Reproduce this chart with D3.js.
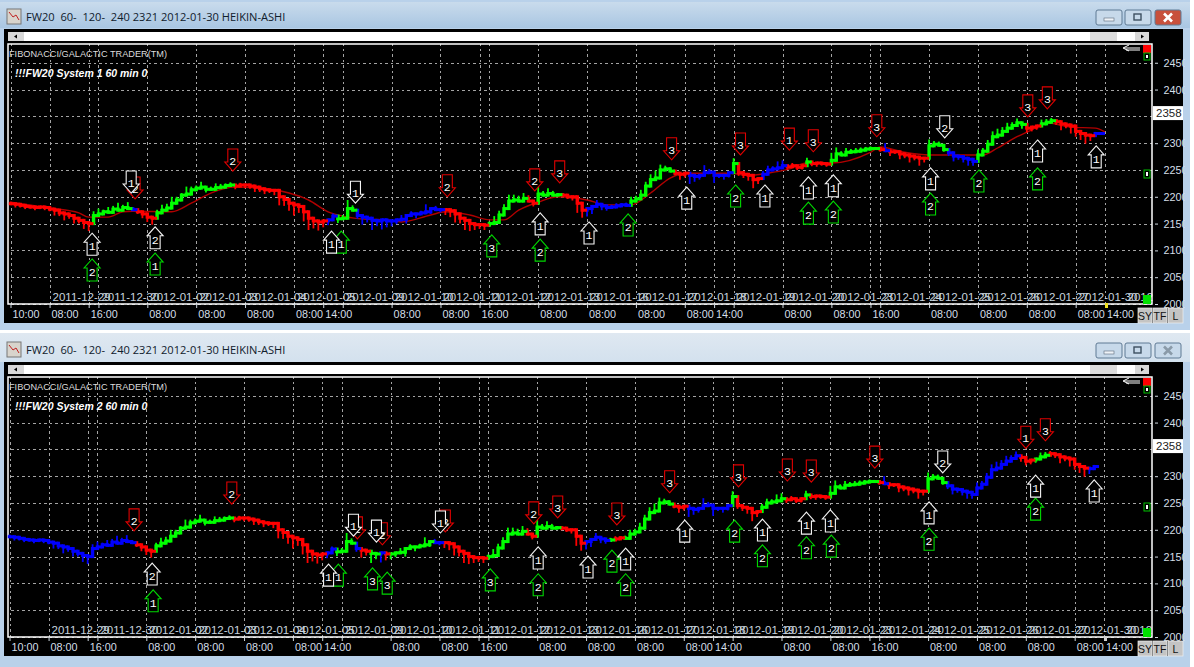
<!DOCTYPE html>
<html>
<head>
<meta charset="utf-8">
<title>FW20 System</title>
<script src="https://cdnjs.cloudflare.com/ajax/libs/d3/7.8.5/d3.min.js"></script>
<style>
  html, body { margin: 0; padding: 0; background: #fff; }
  svg { display: block; }
  text { white-space: pre; }
</style>
</head>
<body>
<div id="chart"></div>
<script>
// Hourly closes, one per bar
var closes = [
  2187,2186,2184,2182,2181,2180,2181,2180,
  2177,2175,2170,2168,2165,2160,2156,2152,2150,2165,
  2168,2172,2171,2177,2175,2180,2178,2176,2172,2168,
  2162,2160,2170,2175,2179,2188,2194,2203,2205,2213,
  2216,2218,2214,2214,2217,2218,2221,2222,2220,2222,
  2222,2220,2218,2215,2213,2212,2212,2200,2195,2188,
  2185,2182,2172,2160,2155,2153,2155,2157,2164,2159,
  2160,2178,2175,2165,2162,2160,2156,2155,2157,2155,
  2155,2157,2158,2165,2168,2168,2170,2172,2178,2176,
  2176,2176,2174,2168,2160,2156,2150,2148,2148,2147,
  2150,2152,2166,2178,2192,2194,2192,2197,2192,2188,
  2205,2203,2206,2203,2204,2203,2200,2200,2188,2175,
  2178,2182,2186,2183,2180,2181,2183,2185,2184,2192,
  2196,2203,2220,2232,2235,2250,2252,2248,2244,2242,
  2244,2240,2238,2240,2245,2246,2240,2240,2240,2245,
  2262,2245,2242,2240,2232,2234,2242,2250,2252,2254,
  2258,2256,2258,2255,2258,2265,2262,2263,2262,2261,
  2268,2280,2278,2283,2284,2285,2287,2289,2290,2290,
  2288,2286,2284,2284,2280,2278,2276,2274,2272,2272,
  2295,2298,2296,2288,2282,2276,2275,2272,2270,2266,
  2278,2285,2298,2312,2315,2322,2328,2333,2338,2335,
  2328,2330,2332,2336,2339,2342,2340,2336,2334,2332,
  2322,2318,2315,2314,2318,2318
];

// Wick length per bar in points: positive above the body, negative below
var wicks = [
  4,-6,-4,-5,-3,-5,-3,-5,
  -4,-10,-6,-12,-6,-10,-6,-12,-14,8,
  10,4,9,6,12,5,10,3,-4,-8,
  -9,-12,6,10,8,12,6,4,14,6,
  5,10,-6,5,8,6,4,5,-6,4,
  -6,-5,-9,-6,-8,-5,-9,-16,-12,-14,
  -20,-12,-18,-22,-14,-16,-10,-8,5,-8,
  6,16,6,-6,-14,-8,-18,-10,-16,-12,
  -10,-6,8,-8,5,-8,4,14,-4,5,
  -5,-10,-12,-16,-10,-18,-14,-10,-8,-9,
  4,12,8,8,12,10,8,10,6,-6,
  14,6,10,5,3,-4,-4,-7,-18,-14,
  -12,-10,8,-8,-6,4,5,3,4,8,
  6,10,8,10,14,10,6,3,-4,-10,
  -6,-16,-10,-6,14,6,-14,-5,-8,-4,
  10,-6,-7,-10,-16,-8,6,8,5,12,
  10,-6,5,-5,-4,8,-5,-6,-4,-5,
  14,12,5,8,5,6,5,4,4,3,
  -4,12,-8,-4,-10,-6,-12,-6,-14,-8,
  12,6,5,-4,-6,-10,-6,-8,-12,-8,
  10,6,8,10,12,8,10,6,8,-8,
  -8,-6,-5,8,6,5,-6,-12,-6,-14,
  -10,-12,-16,-10,3,2
];

// Colour runs along the bars: [colour, number of bars]
var runs1 = [
  ["red",17],["green",8],["blue",1],["red",4],["green",16],["red",19],["blue",2],
  ["green",4],["blue",18],["red",9],["green",8],["red",2],["green",5],["red",5],
  ["blue",9],["green",9],["red",3],["blue",9],["green",1],["red",5],["blue",5],
  ["red",4],["green",1],["red",4],["green",10],["red",1],["blue",1],["red",8],
  ["green",4],["blue",6],["green",10],["red",3],["green",3],["red",8],["blue",2]
];
var runs2 = [
  ["blue",26],["red",4],["green",16],["red",19],["blue",2],["green",4],["blue",1],
  ["red",2],["green",2],["blue",1],["red",1],["green",9],["blue",2],["red",9],
  ["green",8],["red",2],["green",5],["red",5],["blue",5],["green",1],["red",2],
  ["green",10],["red",3],["blue",9],["green",1],["red",5],["green",5],["red",4],
  ["green",1],["red",4],["green",10],["red",1],["blue",1],["red",8],["green",4],
  ["blue",15],["red",3],["green",3],["red",8],["blue",2]
];

// Moving average of the first window
var avgBars = [0,8,14,16,20,23,25,33,37,41,46,53,57,61,65,68,73,77,80,86,89,94,98,101,104,108,112,118,122,127,131,135,138,147,151,155,159,163,168,176,178,183,188,194,199,202,206,209,212,217,222,224];
var avgValues = [2190,2179,2170,2162,2162,2172,2173,2172,2188,2207,2218,2214,2207,2194,2172,2164,2158,2157,2153,2166,2172,2166,2157,2157,2175,2190,2200,2194,2185,2185,2207,2235,2244,2244,2240,2244,2251,2263,2263,2283,2293,2283,2278,2278,2278,2291,2312,2325,2338,2330,2328,2321];

// Signal arrows: [bar, price at the tip, label]
var whiteUp1 = [[16.7,2132,"1"],[29.6,2144,"2"],[65.7,2136,"1"],[108.4,2170,"1"],[118.4,2153,"1"],[138.4,2218,"1"],[154.4,2222,"1"],[163.3,2237,"1"],[168.4,2241,"1"],[188.3,2254,"1"],[210.2,2306,"1"],[222.2,2295,"1"]];
var greenUp1 = [[16.7,2084,"2"],[29.6,2095,"1"],[67.7,2136,"1"],[98.5,2129,"3"],[108.4,2121,"2"],[126.4,2168,"2"],[148.4,2222,"2"],[163.3,2190,"2"],[168.4,2192,"2"],[188.3,2207,"2"],[198.2,2250,"2"],[210.2,2254,"2"]];
var whiteDown1 = [[24.7,2207,"1"],[70.6,2188,"1"],[191.2,2310,"2"]];
var redDown1 = [[25.5,2196,"2"],[45.5,2248,"2"],[89.4,2200,"2"],[107.3,2211,"2"],[112.4,2226,"3"],[135.3,2269,"3"],[149.4,2278,"3"],[159.4,2287,"1"],[164.3,2284,"3"],[177.3,2312,"3"],[208.2,2349,"3"],[212.2,2364,"3"]];

var whiteUp2 = [[29.2,2138,"2"],[65.3,2136,"1"],[108.2,2168,"1"],[118.4,2151,"1"],[126.1,2166,"1"],[138.2,2218,"1"],[154.1,2220,"1"],[163.1,2233,"1"],[168,2237,"1"],[188.2,2252,"1"],[210,2302,"1"],[222,2293,"1"]];
var greenUp2 = [[29.4,2088,"1"],[67.3,2136,"1"],[74.3,2129,"3"],[77.3,2121,"3"],[98.4,2127,"3"],[108.2,2118,"2"],[123.3,2162,"2"],[126.1,2118,"2"],[148.4,2218,"2"],[154.1,2172,"2"],[163.1,2187,"2"],[168.2,2190,"2"],[188.2,2203,"2"],[210,2259,"2"]];
var whiteDown2 = [[70.4,2188,"1"],[75.1,2177,"1"],[88.2,2194,"1"],[191,2306,"2"]];
var redDown2 = [[25.5,2198,"2"],[45.5,2248,"2"],[71.2,2183,"2"],[76.3,2172,"2"],[89.2,2196,"2"],[107.3,2211,"2"],[112.2,2222,"3"],[124.3,2209,"3"],[135.1,2269,"3"],[149.2,2280,"3"],[159.2,2291,"3"],[164.1,2289,"3"],[177.1,2315,"3"],[208,2352,"1"],[212,2366,"3"]];

// Axis labels
var priceTicks = [2000,2050,2100,2150,2200,2250,2300,2350,2400,2450];
var priceLabels = [2000,2050,2100,2150,2200,2250,2300,null,2400,2450];
var timeBars = [0,8,16,18,28,38,48,58,64,68,78,88,96,98,108,118,128,138,144,148,158,168,176,178,188,198,208,218,224];
var timeLabels = ["10:00","08:00","16:00","","08:00","08:00","08:00","08:00","14:00","","08:00","08:00","16:00","","08:00","08:00","08:00","08:00","14:00","","08:00","08:00","16:00","","08:00","08:00","08:00","08:00","14:00"];
var dayBars = [8,18,28,38,48,58,68,78,88,98,108,118,128,138,148,158,168,178,188,198,208,218,228];
var dayLabels = ["2011-12-29","2011-12-30","2012-01-02","2012-01-03","2012-01-04","2012-01-05","2012-01-09","2012-01-10","2012-01-11","2012-01-12","2012-01-13","2012-01-16","2012-01-17","2012-01-18","2012-01-19","2012-01-20","2012-01-23","2012-01-24","2012-01-25","2012-01-26","2012-01-27","2012-01-30","2012"];
var lastPrice = 2358;
var windowTitle = "FW20  60-  120-  240 2321 2012-01-30 HEIKIN-ASHI";

// Size of the page
var svgWidth = 1194;
var svgHeight = 667;

// Plot area inside a window, window local coordinates
var plot = { left: 8, right: 1152, top: 44, bottom: 304 };

var barColors = { red: "#ff0000", green: "#00ff00", blue: "#0000ff" };

var svg = d3.select("#chart")
  .append("svg")
  .attr("width", svgWidth)
  .attr("height", svgHeight);

var defs = svg.append("defs");
var activeBar = defs.append("linearGradient").attr("id", "activeBar").attr("x2", 0).attr("y2", 1);
activeBar.append("stop").attr("offset", 0).attr("stop-color", "#c9dbec");
activeBar.append("stop").attr("offset", 1).attr("stop-color", "#a9c6e2");
var idleBar = defs.append("linearGradient").attr("id", "idleBar").attr("x2", 0).attr("y2", 1);
idleBar.append("stop").attr("offset", 0).attr("stop-color", "#dfe8f1");
idleBar.append("stop").attr("offset", 1).attr("stop-color", "#d3e1ee");

// Pair up the [colour, count] runs into one colour per bar
function expandRuns(runs) {
  var out = [];
  runs.forEach(function (r) {
    d3.range(r[1]).forEach(function () { out.push(r[0]); });
  });
  return out;
}

// Draw one whole platform window, offset down the page
function drawWindow(cfg) {
  var g = svg.append("g").attr("transform", `translate(0, ${cfg.top})`);

  // Window frame and title bar
  g.append("rect").attr("x", 0).attr("y", 0).attr("width", 1190).attr("height", cfg.frameHeight)
    .attr("fill", "#b9d1ea");
  g.append("rect").attr("x", 0).attr("y", cfg.active ? 2 : 0).attr("width", 1190).attr("height", cfg.active ? 26 : 29)
    .attr("fill", cfg.active ? "url(#activeBar)" : "url(#idleBar)");

  // Little chart icon
  g.append("rect").attr("x", 7).attr("y", 9).attr("width", 14).attr("height", 15)
    .attr("fill", "#d8d4cc").attr("stroke", "#777");
  g.append("path").attr("d", "M9 12 L13 17 L16 15 L19 20").attr("fill", "none").attr("stroke", "#c02020");

  g.append("text")
    .attr("x", 26).attr("y", 21)
    .style("font-family", "'Open Sans', 'Liberation Sans', sans-serif")
    .style("font-size", "11.1px")
    .style("fill", "#10202c")
    .text(windowTitle);

  // Caption buttons
  var buttons = [
    { x: 1096, w: 26, fill: "#c7d9ea", mark: "min" },
    { x: 1125, w: 26, fill: "#c7d9ea", mark: "max" },
    { x: 1155, w: 26, fill: cfg.active ? "#c8503c" : "#c7d9ea", mark: "close" }
  ];
  buttons.forEach(function (b) {
    g.append("rect").attr("x", b.x).attr("y", 10).attr("width", b.w).attr("height", 15).attr("rx", 2)
      .attr("fill", b.fill).attr("stroke", "#5f7a94");
    if (b.mark === "min") {
      g.append("rect").attr("x", b.x + 8).attr("y", 18).attr("width", 10).attr("height", 3)
        .attr("fill", "#eef3f8").attr("stroke", "#5a6a7a").attr("stroke-width", 0.6);
    } else if (b.mark === "max") {
      g.append("rect").attr("x", b.x + 9).attr("y", 14).attr("width", 7).attr("height", 6)
        .attr("fill", "none").attr("stroke", "#3d4f60").attr("stroke-width", 1.4);
    } else {
      g.append("path").attr("d", `M${b.x + 9} 13.5 L${b.x + 17} 21.5 M${b.x + 17} 13.5 L${b.x + 9} 21.5`)
        .attr("stroke", cfg.active ? "#fff" : "#8a9aa8").attr("stroke-width", 2.6);
    }
  });

  // Black client area
  g.append("rect").attr("x", 4).attr("y", 29).attr("width", 1179).attr("height", 294).attr("fill", "#000");

  // Scroll strip
  g.append("rect").attr("x", 8).attr("y", 32).attr("width", 1141).attr("height", 9).attr("fill", "#fff");
  g.append("rect").attr("x", 8).attr("y", 32).attr("width", 16).attr("height", 9).attr("fill", "#d8d8d8");
  g.append("rect").attr("x", 1090).attr("y", 32).attr("width", 27).attr("height", 9).attr("fill", "#dcdcdc");
  g.append("rect").attr("x", 1135).attr("y", 32).attr("width", 14).attr("height", 9).attr("fill", "#d8d8d8");
  g.append("path").attr("d", "M17 34.5 L14 36.5 L17 38.5 Z").attr("fill", "#000");
  g.append("path").attr("d", "M1141 34.5 L1144 36.5 L1141 38.5 Z").attr("fill", "#000");

  // Scales: bars are evenly spaced, trading time only
  var xScale = d3.scaleLinear().domain([0, 224]).range([10.5 + cfg.dx, 1105 + cfg.dx]);
  var yScale = d3.scaleLinear().domain([2000, 2485]).range([plot.bottom, plot.top]);

  // Dashed grid, from the axes
  var xGrid = g.append("g")
    .attr("transform", `translate(0, ${plot.bottom})`)
    .call(d3.axisBottom(xScale).tickValues(timeBars).tickSize(-(plot.bottom - plot.top)).tickFormat(""));
  var yGrid = g.append("g")
    .attr("transform", `translate(${plot.right}, 0)`)
    .call(d3.axisRight(yScale).tickValues(priceTicks).tickSize(-(plot.right - plot.left)).tickFormat(""));
  [xGrid, yGrid].forEach(function (a) {
    a.select(".domain").remove();
    a.selectAll("line")
      .attr("stroke", "#a4a4a4")
      .attr("stroke-dasharray", "2.5,3")
      .attr("shape-rendering", "crispEdges");
  });

  // Date labels sit inside the plot, just above the floor
  g.append("g").selectAll("text")
    .data(dayLabels)
    .enter()
    .append("text")
    .attr("x", (d, i) => xScale(dayBars[i]) + 3)
    .attr("y", plot.bottom - 3)
    .style("font-family", "'Liberation Sans', Arial, sans-serif")
    .style("font-size", "11.5px")
    .style("fill", "#c8d4de")
    .text(d => d);

  // Plot border
  g.append("path")
    .attr("d", `M${plot.left} ${plot.bottom} V${plot.top} H${plot.right} V${plot.bottom} Z`)
    .attr("fill", "none")
    .attr("stroke", "#fff")
    .attr("stroke-width", 1.5);

  // Bottom time axis
  var timeAxis = g.append("g")
    .attr("transform", `translate(0, ${plot.bottom})`)
    .call(d3.axisBottom(xScale)
      .tickValues(timeBars)
      .tickSize(4)
      .tickFormat((d, i) => timeLabels[i]));
  timeAxis.select(".domain").remove();
  timeAxis.selectAll("line").attr("stroke", "#cfd8e0");
  timeAxis.selectAll("text")
    .attr("text-anchor", "start")
    .attr("x", 1.5)
    .attr("y", 6)
    .attr("dy", "0.71em")
    .style("font-family", "'Liberation Sans', Arial, sans-serif")
    .style("font-size", "10.8px")
    .style("fill", "#d5dfe8");

  // Right price axis
  var priceAxis = g.append("g")
    .attr("transform", `translate(${plot.right}, 0)`)
    .call(d3.axisRight(yScale)
      .tickValues(priceTicks)
      .tickSize(5)
      .tickPadding(6)
      .tickFormat((d, i) => priceLabels[i] === null ? "" : priceLabels[i]));
  priceAxis.select(".domain").remove();
  priceAxis.selectAll("line")
    .attr("x1", 3)
    .attr("x2", 6)
    .attr("stroke", "#cfd8e0");
  priceAxis.selectAll("text")
    .attr("x", 11.5)
    .style("font-family", "'Liberation Sans', Arial, sans-serif")
    .style("font-size", "10.8px")
    .style("fill", "#d5dfe8");

  // Frame strip to the right clips the last price digit, as in the original
  g.append("rect").attr("x", 1185).attr("y", 29).attr("width", 5).attr("height", cfg.frameHeight - 29).attr("fill", "#b9d1ea");

  // Last price flag
  g.append("rect").attr("x", plot.right + 1).attr("y", yScale(lastPrice) - 6).attr("width", 30).attr("height", 14).attr("fill", "#fff");
  g.append("text")
    .attr("x", plot.right + 4).attr("y", yScale(lastPrice) + 5)
    .style("font-family", "'Liberation Sans', Arial, sans-serif")
    .style("font-size", "11.5px")
    .style("fill", "#222")
    .text(lastPrice);

  // Captions
  g.append("text")
    .attr("x", 9).attr("y", 57)
    .style("font-family", "'Liberation Sans', Arial, sans-serif")
    .style("font-size", "9.2px")
    .style("fill", "#dcdcdc")
    .text("FIBONACCI/GALACTIC TRADER(TM)");
  g.append("text")
    .attr("x", 15).attr("y", 77)
    .style("font-family", "'Liberation Sans', Arial, sans-serif")
    .style("font-size", "10.5px")
    .style("font-weight", "bold")
    .style("font-style", "italic")
    .style("fill", "#fff")
    .text(cfg.caption);

  // Moving average
  if (cfg.showAverage) {
    var avgLine = d3.line()
      .x((d, i) => xScale(avgBars[i]))
      .y(d => yScale(d))
      .curve(d3.curveMonotoneX);
    g.append("path")
      .datum(avgValues)
      .attr("d", avgLine)
      .attr("fill", "none")
      .attr("stroke", "#b00000")
      .attr("stroke-width", 1.4);
  }

  // Heikin-ashi bars as a staircase: wick, thick stem, tread at the close
  var colors = expandRuns(cfg.runs);
  var step = xScale(1) - xScale(0);
  var prev = (d, i) => i ? closes[i - 1] : d;
  var bars = g.append("g");
  bars.selectAll("line")
    .data(closes)
    .enter()
    .append("line")
    .attr("x1", (d, i) => xScale(i))
    .attr("x2", (d, i) => xScale(i))
    .attr("y1", (d, i) => yScale(d))
    .attr("y2", (d, i) => yScale(wicks[i] > 0 ? Math.max(d, prev(d, i)) + wicks[i] : Math.min(d, prev(d, i)) + wicks[i]))
    .attr("stroke", (d, i) => barColors[colors[i]])
    .attr("stroke-width", 1.8);
  bars.selectAll("rect.stem")
    .data(closes)
    .enter()
    .append("rect")
    .attr("class", "stem")
    .attr("x", (d, i) => xScale(i) - 1.7)
    .attr("width", 3.4)
    .attr("y", (d, i) => yScale(Math.max(d, prev(d, i))) - 1.5)
    .attr("height", (d, i) => Math.abs(yScale(d) - yScale(prev(d, i))) + 3)
    .attr("fill", (d, i) => barColors[colors[i]]);
  bars.selectAll("rect.tread")
    .data(closes)
    .enter()
    .append("rect")
    .attr("class", "tread")
    .attr("x", (d, i) => xScale(i))
    .attr("width", step)
    .attr("y", d => yScale(d) - 1.5)
    .attr("height", 3)
    .attr("fill", (d, i) => barColors[colors[i]]);

  // Arrows
  drawArrows(g, xScale, yScale, cfg.greenUp, "#00d800", 1);
  drawArrows(g, xScale, yScale, cfg.whiteUp, "#f4f4f4", 1);
  drawArrows(g, xScale, yScale, cfg.redDown, "#e00000", -1);
  drawArrows(g, xScale, yScale, cfg.whiteDown, "#f4f4f4", -1);

  // Small markers in the right hand corner of the plot
  g.append("path").attr("d", "M1140 48 H1124 M1129 45 L1123 48 L1129 51 M1126 50 H1140")
    .attr("fill", "none").attr("stroke", "#fff");
  g.append("rect").attr("x", 1143).attr("y", 45).attr("width", 8).attr("height", 8).attr("fill", "#ff0000");
  g.append("rect").attr("x", 1144).attr("y", 53).attr("width", 6).attr("height", 7).attr("fill", "#000").attr("stroke", "#00c000");
  g.append("rect").attr("x", 1146).attr("y", 55).attr("width", 2).attr("height", 3).attr("fill", "#fff");
  g.append("rect").attr("x", 1144).attr("y", 170).attr("width", 6).attr("height", 8).attr("fill", "#000").attr("stroke", "#00c000");
  g.append("rect").attr("x", 1146).attr("y", 172).attr("width", 2).attr("height", 4).attr("fill", "#fff");
  g.append("rect").attr("x", 1143).attr("y", 295).attr("width", 8).attr("height", 9).attr("fill", "#00e000");
  g.append("rect").attr("x", 1105 + cfg.dx).attr("y", 303).attr("width", 3).attr("height", 5).attr("fill", cfg.active ? "#f0e020" : "#d0d0d0");

  // SY TF L buttons
  var tabs = [["SY", 1138, 14], ["TF", 1153, 14], ["L", 1168, 15]];
  tabs.forEach(function (t) {
    g.append("rect").attr("x", t[1]).attr("y", 308).attr("width", t[2]).attr("height", 15)
      .attr("fill", "#c4c4c4").attr("stroke", "#f0f0f0").attr("stroke-width", 0.7);
    g.append("text")
      .attr("x", t[1] + t[2] / 2).attr("y", 320)
      .attr("text-anchor", "middle")
      .style("font-family", "'Liberation Sans', Arial, sans-serif")
      .style("font-size", "10.5px")
      .style("fill", "#111")
      .text(t[0]);
  });
}

// dir 1 points up with the tip on top, dir -1 points down with the tip at the bottom
function drawArrows(g, xScale, yScale, rows, color, dir) {
  var groups = g.append("g").selectAll("g")
    .data(rows)
    .enter()
    .append("g")
    .attr("transform", d => `translate(${xScale(d[0])}, ${yScale(d[1])})`);

  groups.append("path")
    .attr("d", `M0 0 L8 ${dir * 9} L5 ${dir * 9} L5 ${dir * 22} L-5 ${dir * 22} L-5 ${dir * 9} L-8 ${dir * 9} Z`)
    .attr("fill", "#000")
    .attr("stroke", color)
    .attr("stroke-width", 1.1);

  groups.append("text")
    .attr("text-anchor", "middle")
    .attr("y", dir > 0 ? 17 : -6)
    .style("font-family", "'Liberation Mono', monospace")
    .style("font-size", "11.5px")
    .style("fill", "#fff")
    .text(d => d[2]);
}

drawWindow({
  top: 0, frameHeight: 330, active: true, dx: 0, showAverage: true,
  caption: "!!!FW20 System 1 60 min 0",
  runs: runs1, whiteUp: whiteUp1, greenUp: greenUp1, whiteDown: whiteDown1, redDown: redDown1
});
drawWindow({
  top: 333, frameHeight: 334, active: false, dx: -1, showAverage: false,
  caption: "!!!FW20 System 2 60 min 0",
  runs: runs2, whiteUp: whiteUp2, greenUp: greenUp2, whiteDown: whiteDown2, redDown: redDown2
});
</script>
</body>
</html>
